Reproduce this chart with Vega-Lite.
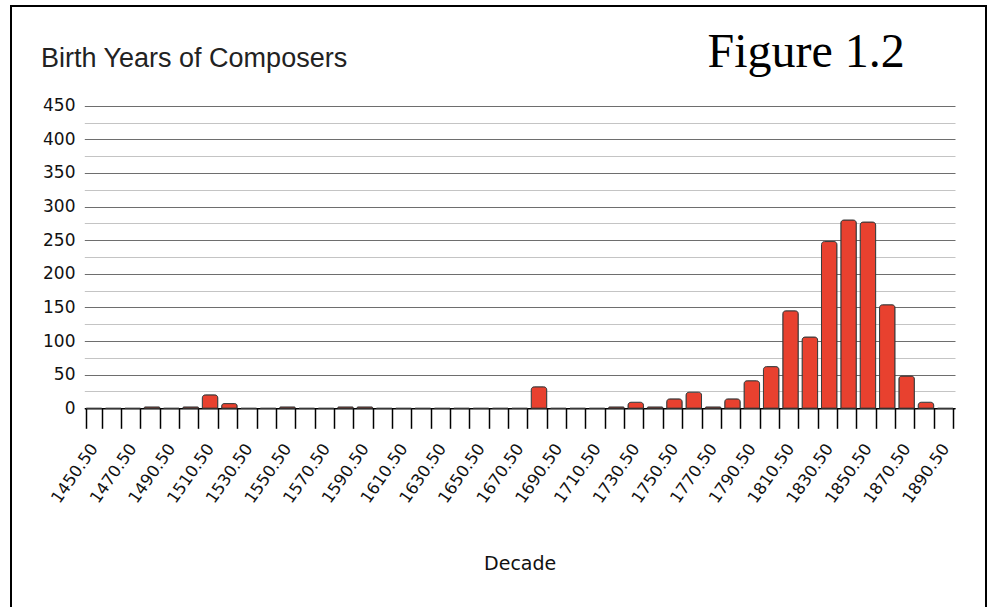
{
  "$schema": "https://vega.github.io/schema/vega-lite/v6.json",
  "autosize": "none",
  "width": 975,
  "height": 603,
  "padding": {"left": 11, "top": 6, "right": 7, "bottom": -2},
  "background": "white",
  "config": {
    "view": {"stroke": "black", "strokeWidth": 2}
  },
  "title": {
    "text": "Birth Years of Composers",
    "anchor": "start",
    "frame": "group",
    "font": "Liberation Sans",
    "fontSize": 27,
    "fontWeight": "normal",
    "color": "#222222",
    "baseline": "alphabetic",
    "offset": 0,
    "dx": 30,
    "dy": 88
  },
  "data": {
    "values": [
      {"Decade": "1450.50", "Count": 0},
      {"Decade": "1460.50", "Count": 0},
      {"Decade": "1470.50", "Count": 0},
      {"Decade": "1480.50", "Count": 2},
      {"Decade": "1490.50", "Count": 0},
      {"Decade": "1500.50", "Count": 2},
      {"Decade": "1510.50", "Count": 20},
      {"Decade": "1520.50", "Count": 7},
      {"Decade": "1530.50", "Count": 0},
      {"Decade": "1540.50", "Count": 0},
      {"Decade": "1550.50", "Count": 2},
      {"Decade": "1560.50", "Count": 0},
      {"Decade": "1570.50", "Count": 0},
      {"Decade": "1580.50", "Count": 2},
      {"Decade": "1590.50", "Count": 2},
      {"Decade": "1600.50", "Count": 0},
      {"Decade": "1610.50", "Count": 0},
      {"Decade": "1620.50", "Count": 0},
      {"Decade": "1630.50", "Count": 0},
      {"Decade": "1640.50", "Count": 0},
      {"Decade": "1650.50", "Count": 0},
      {"Decade": "1660.50", "Count": 0},
      {"Decade": "1670.50", "Count": 0},
      {"Decade": "1680.50", "Count": 32},
      {"Decade": "1690.50", "Count": 0},
      {"Decade": "1700.50", "Count": 0},
      {"Decade": "1710.50", "Count": 0},
      {"Decade": "1720.50", "Count": 2},
      {"Decade": "1730.50", "Count": 9},
      {"Decade": "1740.50", "Count": 2},
      {"Decade": "1750.50", "Count": 14},
      {"Decade": "1760.50", "Count": 24},
      {"Decade": "1770.50", "Count": 2},
      {"Decade": "1780.50", "Count": 14},
      {"Decade": "1790.50", "Count": 41},
      {"Decade": "1800.50", "Count": 62},
      {"Decade": "1810.50", "Count": 145},
      {"Decade": "1820.50", "Count": 106},
      {"Decade": "1830.50", "Count": 248},
      {"Decade": "1840.50", "Count": 280},
      {"Decade": "1850.50", "Count": 277},
      {"Decade": "1860.50", "Count": 154},
      {"Decade": "1870.50", "Count": 48},
      {"Decade": "1880.50", "Count": 9},
      {"Decade": "1890.50", "Count": 0}
    ]
  },
  "mark": {
    "type": "bar",
    "fill": "#e8412f",
    "stroke": "#3a3a3a",
    "strokeWidth": 1,
    "cornerRadiusTopLeft": 3,
    "cornerRadiusTopRight": 3
  },
  "encoding": {
    "x": {
      "field": "Decade",
      "type": "ordinal",
      "sort": null,
      "scale": {"range": [73.3, 944], "paddingInner": 0.2, "paddingOuter": 0.1},
      "axis": {
        "orient": "bottom",
        "offset": -200.7,
        "title": "Decade",
        "titleFont": "DejaVu Sans",
        "titleFontSize": 19,
        "titleFontWeight": "normal",
        "titleColor": "#111111",
        "titlePadding": 48,
        "domainColor": "black",
        "domainWidth": 1.5,
        "tickBand": "extent",
        "tickSize": 20,
        "tickColor": "black",
        "tickWidth": 1.5,
        "labelAngle": -55,
        "labelFont": "DejaVu Sans",
        "labelFontSize": 16.5,
        "labelColor": "#111111",
        "labelPadding": 17,
        "labelOverlap": false,
        "labelExpr": "parseInt(datum.value) % 20 == 10 ? datum.value : ''",
        "grid": false
      }
    },
    "y": {
      "field": "Count",
      "type": "quantitative",
      "scale": {"domain": [0, 450], "range": [402.3, 99.7], "nice": false},
      "axis": {
        "orient": "left",
        "values": [0, 25, 50, 75, 100, 125, 150, 175, 200, 225, 250, 275, 300, 325, 350, 375, 400, 425, 450],
        "labelExpr": "datum.value % 50 == 0 ? datum.label : ''",
        "domain": false,
        "ticks": false,
        "labelPadding": -64,
        "labelAlign": "right",
        "labelFont": "DejaVu Sans",
        "labelFontSize": 17,
        "labelColor": "#111111",
        "grid": true,
        "gridWidth": 1,
        "gridColor": {"condition": {"test": "datum.value % 50 == 0", "value": "#6e6e6e"}, "value": "#c4c4c4"},
        "title": "Figure 1.2",
        "titleAngle": 0,
        "titleAlign": "left",
        "titleBaseline": "alphabetic",
        "titleX": 696,
        "titleY": 60,
        "titleFont": "Liberation Serif",
        "titleFontSize": 48,
        "titleFontWeight": "normal",
        "titleColor": "black"
      }
    }
  }
}
